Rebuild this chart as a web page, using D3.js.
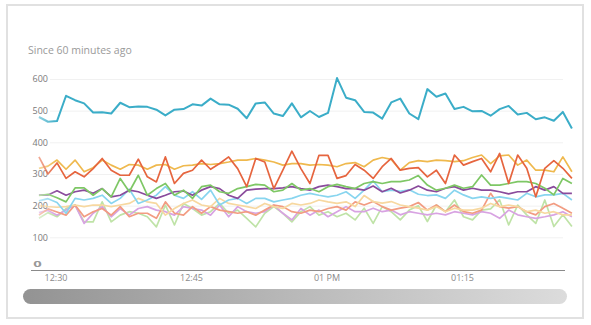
<!DOCTYPE html>
<html>
<head>
<meta charset="utf-8">
<script src="https://cdn.jsdelivr.net/npm/d3@7"></script>
<style>
  body { margin: 0; background: #fff; }
  svg { display: block; }
  text { font-family: "Open Sans", sans-serif; }
</style>
</head>
<body>
<svg id="chart" width="591" height="325"></svg>
<script>
// One sample per minute over the last hour
const startTime = new Date(2024, 0, 1, 12, 27, 10);
const sampleCount = 60;

const tickTimes = ["12:30", "12:45", "13:00", "13:15"];
const yTicks = [100, 200, 300, 400, 500, 600];

const seriesNames = ["paleGreen", "lilac", "salmon", "paleYellow", "lightBlue",
                     "purple", "green", "amber", "red", "teal"];
const seriesColors = ["#bfe3a7", "#d8a3e2", "#f29c82", "#f7d8a0", "#88d5ef",
                      "#8a4b9c", "#7ec765", "#efb94e", "#e6653f", "#3badc8"];

const teal = [480,465,467,547,533,523,494,495,491,525,511,513,512,503,485,503,505,520,516,538,
              520,519,506,476,523,526,491,483,523,479,499,480,493,603,541,533,496,494,475,526,
              538,491,473,568,544,554,505,512,498,499,484,505,515,488,493,473,479,468,496,444];
const red = [354,300,335,286,307,291,317,349,312,296,296,347,291,275,354,270,302,312,344,315,
             333,354,317,260,349,338,254,312,372,317,270,359,359,286,295,330,312,286,323,349,
             312,318,320,291,312,270,360,328,339,349,307,365,270,360,318,228,318,342,318,286];
const amber = [318,325,344,315,344,307,320,344,328,315,330,328,315,328,330,315,326,328,333,330,
               333,338,344,344,349,344,338,328,333,333,328,330,328,323,333,336,323,344,352,346,
               312,336,342,339,344,342,339,342,352,360,333,357,360,328,344,312,312,307,354,307];
const green = [232,236,225,212,256,256,233,254,228,286,244,296,233,254,270,233,249,223,260,265,
               244,239,254,260,267,265,244,249,270,249,254,244,260,267,260,254,270,276,270,276,
               276,281,295,265,249,255,265,255,260,297,265,265,270,276,276,270,255,234,286,270];
const purple = [233,234,247,233,244,249,239,254,228,233,249,244,233,223,233,244,246,233,249,260,
                254,233,223,249,252,254,254,256,260,254,249,260,265,260,254,254,249,262,244,255,
                240,249,262,249,244,255,260,249,255,249,249,244,237,244,244,260,249,260,239,239];
const lightBlue = [215,222,210,176,223,218,223,233,207,223,252,207,218,233,260,233,223,244,220,249,
                   202,218,223,207,223,223,212,218,223,233,239,233,228,233,244,223,249,278,244,249,
                   245,250,236,232,234,223,249,234,223,228,223,228,223,218,239,228,234,234,239,218];
const paleYellow = [200,197,195,197,202,197,202,202,197,202,207,223,212,207,170,191,207,218,202,197,
                    223,207,202,197,191,207,197,191,207,202,207,218,212,207,212,197,232,213,208,213,
                    202,197,192,186,197,181,192,186,186,192,207,197,202,197,181,186,176,181,171,171];
const salmon = [170,190,180,170,202,165,181,191,170,197,165,176,176,160,212,176,170,197,176,197,
                186,181,176,181,170,186,202,197,181,176,186,181,191,197,186,212,202,213,197,186,
                192,197,210,186,202,181,202,181,176,186,239,197,192,197,181,171,197,207,192,176];
const lilac = [178,185,170,186,202,144,176,197,165,191,170,191,197,186,181,170,197,191,186,170,
               202,165,197,181,176,181,202,176,155,191,170,186,165,181,197,181,181,192,181,186,
               171,181,176,171,176,171,181,176,171,181,176,160,186,171,165,160,165,171,181,165];
const paleGreen = [160,178,165,191,202,149,149,212,149,170,181,176,165,133,202,139,207,191,170,181,
                   207,176,186,160,133,176,197,176,149,181,197,170,181,165,176,155,192,144,197,181,
                   155,186,200,150,202,181,218,165,155,186,190,218,139,202,171,144,218,134,171,134];

const seriesValues = [paleGreen, lilac, salmon, paleYellow, lightBlue,
                      purple, green, amber, red, teal];

const svg = d3.select("#chart");

// Time stamps of the samples
const times = d3.timeMinute.range(startTime, d3.timeMinute.offset(startTime, sampleCount))
  .map(d => new Date(d.getTime() + 10000));
const parseHM = d3.timeParse("%H:%M");
const tickDates = tickTimes.map(t => {
  const p = parseHM(t);
  return new Date(2024, 0, 1, p.getHours(), p.getMinutes());
});

const x = d3.scaleTime()
  .domain([tickDates[0], tickDates[3]])
  .range([55.5, 462]);
const y = d3.scaleLinear().domain([0, 600]).range([269, 79]);

// Card frame
svg.append("rect")
  .attr("x", 7).attr("y", 5).attr("width", 576).attr("height", 313)
  .attr("fill", "#fff").attr("stroke", "#e1e1e1").attr("stroke-width", 2);

// Subtitle
svg.append("text")
  .attr("x", 28).attr("y", 54)
  .attr("font-size", 10.5).attr("fill", "#9a9a9a")
  .text("Since 60 minutes ago");

// Gridlines
svg.append("g").selectAll("line").data(yTicks).join("line")
  .attr("x1", 50).attr("x2", 563)
  .attr("y1", d => y(d) + 0.5).attr("y2", d => y(d) + 0.5)
  .attr("stroke", "#f1f1f1").attr("stroke-width", 1);

// Y axis labels
const yAxis = svg.append("g")
  .attr("transform", "translate(51,0)")
  .call(d3.axisLeft(y).tickValues(yTicks).tickSize(0).tickPadding(3));
yAxis.select(".domain").remove();
yAxis.selectAll("text")
  .attr("font-family", "Open Sans, sans-serif")
  .attr("font-size", 9).attr("fill", "#7a7a7a");

// Zero label, drawn just above the baseline
svg.append("text")
  .attr("transform", `translate(37.5,${y(0) - 2}) scale(1.35,0.85)`)
  .attr("text-anchor", "middle")
  .attr("font-size", 11).attr("font-weight", "bold").attr("fill", "#999")
  .text("0");

// Left fade for the lines
const defs = svg.append("defs");
const grad = defs.append("linearGradient")
  .attr("id", "fadeGrad").attr("gradientUnits", "userSpaceOnUse")
  .attr("x1", 28).attr("x2", 57).attr("y1", 0).attr("y2", 0);
grad.append("stop").attr("offset", 0).attr("stop-color", "#fff").attr("stop-opacity", 0.28);
grad.append("stop").attr("offset", 1).attr("stop-color", "#fff").attr("stop-opacity", 1);
defs.append("mask").attr("id", "fadeMask")
  .append("rect").attr("x", 0).attr("y", 0).attr("width", 591).attr("height", 325)
  .attr("fill", "url(#fadeGrad)");

const line = d3.line()
  .x((d, i) => x(times[i]))
  .y(d => y(d));

svg.append("g")
  .attr("mask", "url(#fadeMask)")
  .selectAll("path")
  .data(seriesValues)
  .join("path")
  .attr("fill", "none")
  .attr("stroke", (d, i) => seriesColors[i])
  .attr("stroke-width", (d, i) => seriesNames[i] === "teal" ? 2 : 1.7)
  .attr("stroke-linejoin", "round")
  .attr("d", line);

// X axis
svg.append("line")
  .attr("x1", 31).attr("x2", 565)
  .attr("y1", 270.5).attr("y2", 270.5)
  .attr("stroke", "#8a8a8a").attr("stroke-width", 1.2);

const fmtMinute = d3.timeFormat("%I:%M");
const fmtHour = d3.timeFormat("%I %p");
const xAxis = svg.append("g")
  .attr("transform", "translate(0,271)")
  .call(d3.axisBottom(x).tickValues(tickDates).tickSize(0).tickPadding(4)
    .tickFormat(d => d.getMinutes() === 0 ? fmtHour(d) : fmtMinute(d)));
xAxis.select(".domain").remove();
xAxis.selectAll("text")
  .attr("font-family", "Open Sans, sans-serif")
  .attr("font-size", 9).attr("fill", "#8a8a8a");

// Scroll bar
const sbGrad = defs.append("linearGradient")
  .attr("id", "scrollGrad").attr("x1", 0).attr("x2", 1).attr("y1", 0).attr("y2", 0);
sbGrad.append("stop").attr("offset", 0).attr("stop-color", "#939393");
sbGrad.append("stop").attr("offset", 0.5).attr("stop-color", "#b9b9b9");
sbGrad.append("stop").attr("offset", 1).attr("stop-color", "#dcdcdc");
svg.append("rect")
  .attr("x", 23).attr("y", 289).attr("width", 544).attr("height", 15)
  .attr("rx", 7.5).attr("ry", 7.5)
  .attr("fill", "url(#scrollGrad)");
</script>
</body>
</html>
